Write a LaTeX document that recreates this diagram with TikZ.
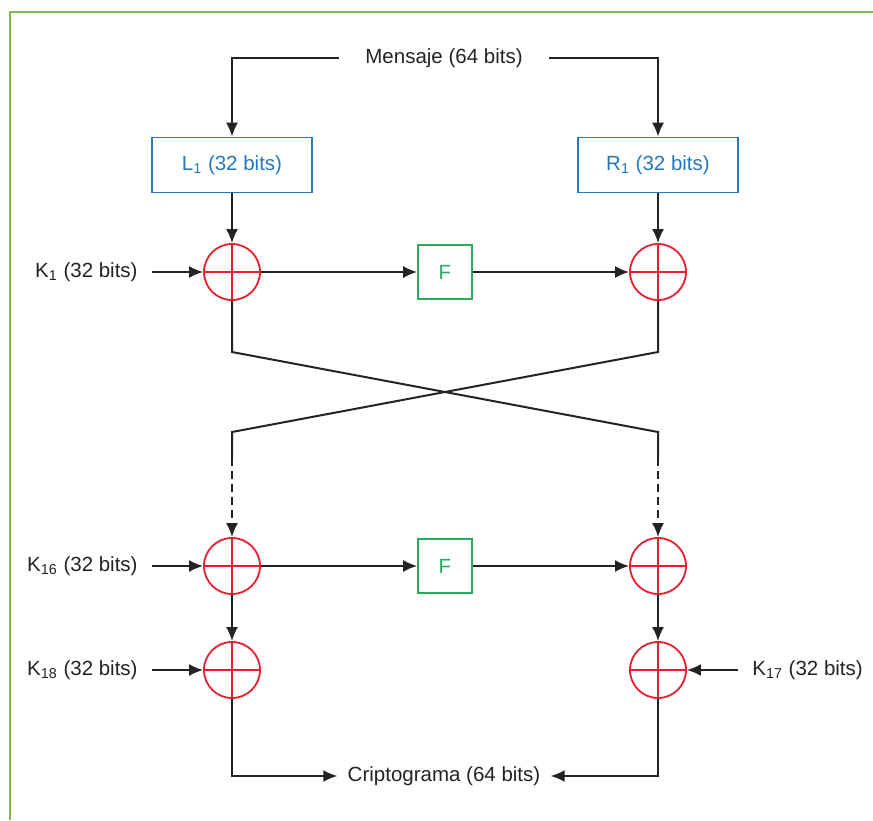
\documentclass[tikz,border=0pt]{standalone}
\usepackage{fontspec}
\setmainfont{Liberation Sans}
\usetikzlibrary{arrows.meta}
\definecolor{boxblue}{RGB}{35,120,190}
\definecolor{fgreen}{RGB}{40,170,95}
\definecolor{xred}{RGB}{230,30,45}
\definecolor{framegreen}{RGB}{120,190,80}
\definecolor{ink}{RGB}{35,35,35}
\tikzset{
  xor/.style={circle,draw=xred,line width=0.9pt,minimum size=28pt,inner sep=0pt,
    path picture={\draw[xred,line width=0.9pt]
      (path picture bounding box.north) -- (path picture bounding box.south)
      (path picture bounding box.west) -- (path picture bounding box.east);}},
  half/.style={draw=boxblue,line width=0.8pt,minimum width=80pt,minimum height=27.5pt,text=boxblue},
  fbox/.style={draw=fgreen,line width=0.8pt,minimum size=27pt,inner sep=0pt,text=fgreen},
  key/.style={text=ink,inner xsep=7pt},
  wire/.style={ink,line width=1pt},
  arr/.style={wire,-{Latex[length=7pt,width=6pt]}},
}
\begin{document}
\begin{tikzpicture}[x=0.5pt,y=-0.5pt,font=\fontsize{10.25}{12}\selectfont]
  \useasboundingbox (0,0) rectangle (873,820);
  \draw[framegreen,line width=0.8pt] (873,12) -- (10,12) -- (10,820);
  % first round
  \node[text=ink,inner xsep=13pt] (msg) at (444,58) {Mensaje (64 bits)};
  \node[half] (L1) at (232,165) {L\textsubscript{1} (32 bits)};
  \node[half] (R1) at (658,165) {R\textsubscript{1} (32 bits)};
  \node[xor] (x1) at (232,272) {};
  \node[xor] (x2) at (658,272) {};
  \node[fbox] (f1) at (445,272) {F};
  \node[key,anchor=east] (k1) at (152,272) {K\textsubscript{1} (32 bits)};
  \draw[arr] (msg.west) -| (L1);
  \draw[arr] (msg.east) -| (R1);
  \draw[arr] (L1) -- (x1);
  \draw[arr] (R1) -- (x2);
  \draw[arr] (k1) -- (x1);
  \draw[arr] (x1) -- (f1);
  \draw[arr] (f1) -- (x2);
  % last rounds
  \node[xor] (x16l) at (232,566) {};
  \node[xor] (x16r) at (658,566) {};
  \node[fbox] (f16) at (445,566) {F};
  \node[key,anchor=east] (k16) at (152,566) {K\textsubscript{16} (32 bits)};
  \node[xor] (x18) at (232,670) {};
  \node[xor] (x17) at (658,670) {};
  \node[key,anchor=east] (k18) at (152,670) {K\textsubscript{18} (32 bits)};
  \node[key,anchor=west] (k17) at (738,670) {K\textsubscript{17} (32 bits)};
  \node[text=ink,inner xsep=5pt] (cripto) at (444,776) {Criptograma (64 bits)};
  % swap
  \coordinate (dl) at (232,458);
  \coordinate (dr) at (658,458);
  \draw[wire] (x1) -- (232,352) -- (658,432) -- (dr);
  \draw[wire] (x2) -- (658,352) -- (232,432) -- (dl);
  \draw[arr,dash pattern=on 4pt off 2.5pt] (dl) -- (x16l);
  \draw[arr,dash pattern=on 4pt off 2.5pt] (dr) -- (x16r);
  \draw[arr] (k16) -- (x16l);
  \draw[arr] (x16l) -- (f16);
  \draw[arr] (f16) -- (x16r);
  \draw[arr] (x16l) -- (x18);
  \draw[arr] (x16r) -- (x17);
  \draw[arr] (k18) -- (x18);
  \draw[arr] (k17) -- (x17);
  \draw[arr] (x18) |- (cripto);
  \draw[arr] (x17) |- (cripto);
\end{tikzpicture}
\end{document}
